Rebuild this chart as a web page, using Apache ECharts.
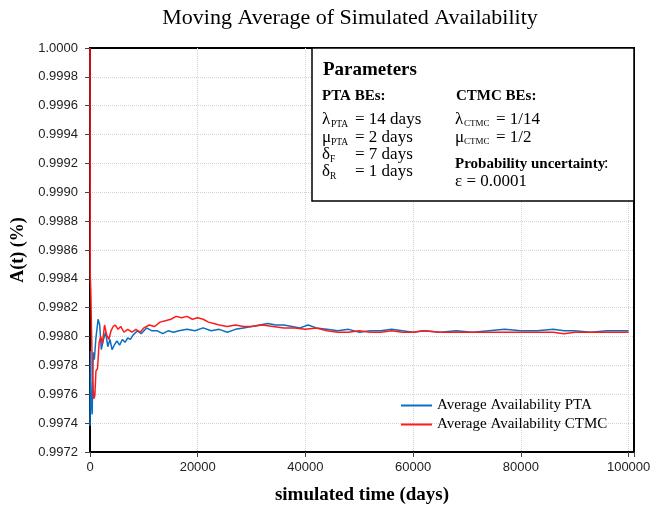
<!DOCTYPE html>
<html>
<head>
<meta charset="utf-8">
<script src="https://cdn.jsdelivr.net/npm/echarts@6/dist/echarts.min.js"></script>
<style>
  html, body { margin: 0; padding: 0; background: #fff; }
  #chart { width: 670px; height: 510px; }
</style>
</head>
<body>
<div id="chart"></div>
<script>
const ptaDays = [0, 100, 200, 400, 600, 800, 1100, 1500, 1800, 2100, 2500, 2900, 3300, 3700, 4100, 4500,
  5000, 5500, 6000, 6500, 7000, 7500, 8000, 8800, 9500, 10500, 11500, 12500, 13500, 14500, 15500, 16500,
  18000, 19500, 21000, 22500, 24000, 25500, 27000, 28500, 30000, 31500, 33000, 34500, 36000, 37500, 39000,
  40500, 42000, 44000, 46000, 48000, 50000, 52000, 54000, 56000, 58000, 60000, 62000, 65000, 68000, 71000,
  74000, 77000, 80000, 83000, 86000, 88000, 90000, 93000, 96000, 100000]
const ptaAvail = [0.99738, 0.99790, 0.99758, 0.99746, 0.99789, 0.99784, 0.99799, 0.99812, 0.99808, 0.99791,
  0.99798, 0.99803, 0.99793, 0.99798, 0.99791, 0.99794, 0.99797, 0.99794, 0.99798, 0.99796, 0.99799, 0.99798,
  0.99801, 0.99804, 0.99802, 0.99806, 0.99804, 0.99804, 0.99802, 0.99804, 0.99803, 0.99804, 0.99805, 0.99804,
  0.99806, 0.99804, 0.99805, 0.99803, 0.99805, 0.99806, 0.99807, 0.99808, 0.99809, 0.99808, 0.99808, 0.99807,
  0.99806, 0.99808, 0.99806, 0.99805, 0.99804, 0.99805, 0.99803, 0.99804, 0.99804, 0.99805, 0.99804, 0.99803,
  0.99804, 0.99803, 0.99804, 0.99803, 0.99804, 0.99805, 0.99804, 0.99804, 0.99805, 0.99804, 0.99804, 0.99803,
  0.99804, 0.99804]

const ctmcDays = [0, 50, 150, 300, 500, 700, 900, 1100, 1400, 1700, 2000, 2300, 2700, 3100, 3500, 3900, 4300,
  4700, 5200, 5700, 6300, 7000, 7800, 8500, 9300, 10000, 11000, 12000, 13000, 14000, 15000, 16000, 17000,
  18000, 19000, 20000, 21000, 22000, 23000, 24000, 25500, 27000, 28500, 30000, 32000, 34000, 36000, 38000,
  40000, 42000, 44000, 46000, 48000, 50000, 52000, 54000, 56000, 58000, 60000, 62000, 65000, 68000, 71000,
  74000, 77000, 80000, 83000, 86000, 88000, 90000, 93000, 96000, 100000]
const ctmcAvail = [1.00000, 0.99842, 0.99832, 0.99800, 0.99770, 0.99757, 0.99759, 0.99776, 0.99778, 0.99796,
  0.99800, 0.99795, 0.99808, 0.99801, 0.99798, 0.99804, 0.99807, 0.99808, 0.99805, 0.99807, 0.99803, 0.99805,
  0.99803, 0.99805, 0.99803, 0.99806, 0.99808, 0.99807, 0.99810, 0.99811, 0.99812, 0.99814, 0.99813, 0.99814,
  0.99812, 0.99813, 0.99812, 0.99810, 0.99809, 0.99808, 0.99807, 0.99808, 0.99807, 0.99807, 0.99808, 0.99807,
  0.99806, 0.99806, 0.99805, 0.99806, 0.99804, 0.99803, 0.99803, 0.99804, 0.99803, 0.99803, 0.99804, 0.99803,
  0.99803, 0.99804, 0.99803, 0.99803, 0.99803, 0.99803, 0.99803, 0.99803, 0.99803, 0.99803, 0.99802, 0.99803,
  0.99803, 0.99803, 0.99803]

const seriesNames = ["Average Availability PTA", "Average Availability CTMC"]

const serif = "'Liberation Serif', 'Times New Roman', serif"
const sans = "'Liberation Sans', Arial, sans-serif"

const chart = echarts.init(document.getElementById("chart"))

// text pieces for the parameters box
function t(x, y, text, size, bold) {
  return {
    type: "text",
    x: x,
    y: y,
    z: 101,
    style: {
      text: text,
      fontFamily: serif,
      fontSize: size || 17,
      fontWeight: bold ? "bold" : "normal",
      fill: "#000",
      verticalAlign: "middle"
    }
  }
}

const boxText = [
  t(323, 70, "Parameters", 19, true),
  t(322, 96, "PTA BEs:", 15, true),
  t(456, 96, "CTMC BEs:", 15, true),
  t(322, 120, "λ"), t(331, 124, "PTA", 9.5), t(355, 120, "= 14 days"),
  t(322, 138, "μ"), t(331, 142, "PTA", 9.5), t(355, 138, "= 2 days"),
  t(322, 155, "δ"), t(330, 159, "F", 9.5), t(355, 155, "= 7 days"),
  t(322, 172, "δ"), t(330, 176, "R", 9.5), t(355, 172, "= 1 days"),
  t(455, 120, "λ"), t(464, 124, "CTMC", 9), t(496, 120, "= 1/14"),
  t(455, 138, "μ"), t(464, 142, "CTMC", 9), t(496, 138, "= 1/2"),
  t(455, 164, "Probability uncertainty", 15, true), t(604, 164, ":", 16),
  t(455, 182, "ε = 0.0001")
]

const option = {
  backgroundColor: "#fff",
  animation: false,
  title: {
    text: "Moving Average of Simulated Availability",
    left: 345,
    textAlign: "center",
    top: 2,
    textStyle: { fontFamily: serif, fontSize: 22, fontWeight: "normal", color: "#000" }
  },
  grid: { left: 90, right: 36, top: 48, bottom: 58, show: true, borderColor: "#000", borderWidth: 2 },
  legend: {
    orient: "vertical",
    left: 401,
    top: 398,
    padding: 0,
    itemWidth: 31,
    itemHeight: 2,
    itemGap: 4,
    icon: "rect",
    textStyle: { fontFamily: serif, fontSize: 15, color: "#000" },
    data: seriesNames
  },
  xAxis: {
    type: "value",
    min: 0,
    max: 101000,
    interval: 20000,
    name: "simulated time (days)",
    nameLocation: "middle",
    nameGap: 34,
    nameTextStyle: { fontFamily: serif, fontSize: 19, fontWeight: "bold", color: "#000" },
    axisLine: { show: true, lineStyle: { color: "#000", width: 2 } },
    axisTick: { show: true, length: 5, lineStyle: { color: "#444" } },
    axisLabel: {
      fontFamily: sans, fontSize: 13, color: "#222", margin: 9,
      formatter: v => (v % 20000 === 0 ? String(v) : "")
    },
    splitLine: {
      show: true, showMinLine: false, showMaxLine: false,
      lineStyle: { color: "#d4d4d4", type: "dotted", width: 1 }
    }
  },
  yAxis: {
    type: "value",
    min: 0.9972,
    max: 1.0,
    interval: 0.0002,
    name: "A(t) (%)",
    nameLocation: "middle",
    nameGap: 57,
    nameTextStyle: { fontFamily: serif, fontSize: 18, fontWeight: "bold", color: "#000" },
    axisLine: { show: true, lineStyle: { color: "#000", width: 2 } },
    axisTick: { show: true, length: 5, lineStyle: { color: "#444" } },
    axisLabel: { fontFamily: sans, fontSize: 13, color: "#222", margin: 12, formatter: v => v.toFixed(4) },
    splitLine: {
      show: true, showMinLine: false, showMaxLine: false,
      lineStyle: { color: "#d4d4d4", type: "dotted", width: 1 }
    }
  },
  graphic: [
    {
      type: "rect",
      z: 100,
      shape: { x: 312, y: 48, width: 322, height: 153 },
      style: { fill: "#fff", stroke: "#000", lineWidth: 1.5 }
    }
  ].concat(boxText),
  series: [
    {
      name: seriesNames[0],
      type: "line",
      showSymbol: false,
      symbol: "none",
      color: "#0a6fc2",
      lineStyle: { width: 1.5 },
      data: ptaDays.map((d, i) => [d, ptaAvail[i]])
    },
    {
      name: seriesNames[1],
      type: "line",
      showSymbol: false,
      symbol: "none",
      color: "#ff1a1a",
      lineStyle: { width: 1.5 },
      data: ctmcDays.map((d, i) => [d, ctmcAvail[i]])
    }
  ]
}

chart.setOption(option)
</script>
</body>
</html>
